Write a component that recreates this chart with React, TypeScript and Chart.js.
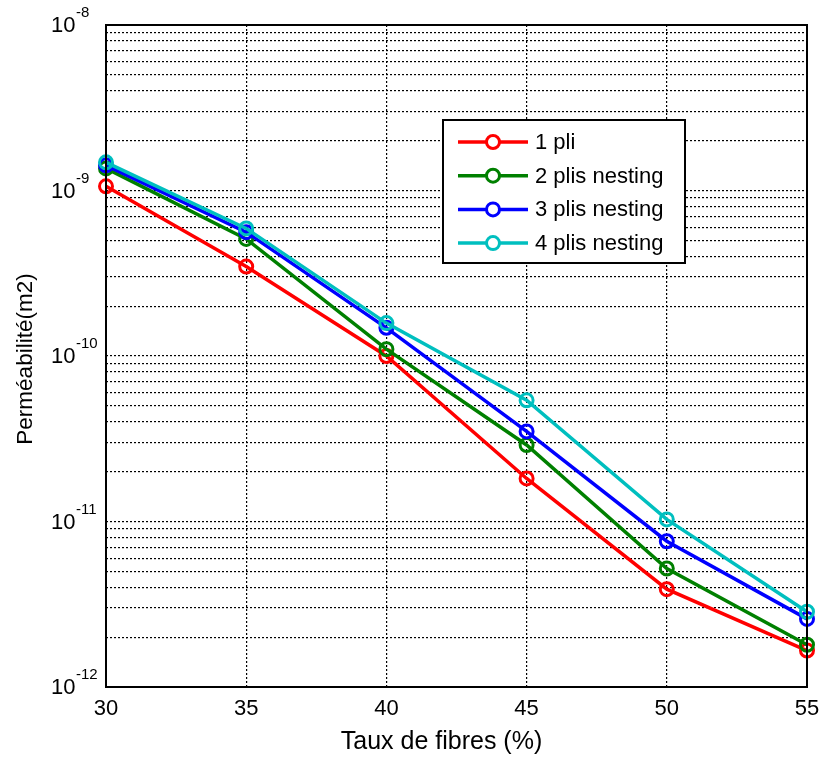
import React, { useEffect, useRef } from "react";
import { Chart, registerables } from "chart.js";

Chart.register(...registerables);

const xValues = [30, 35, 40, 45, 50, 55];
const xTicks = [30, 35, 40, 45, 50, 55];
const yExponents = [-8, -9, -10, -11, -12];

const seriesNames = ["1 pli", "2 plis nesting", "3 plis nesting", "4 plis nesting"];
const seriesColors = ["#ff0000", "#008000", "#0000ff", "#00bfbf"];

const pli1 = [1.06e-9, 3.47e-10, 1.0e-10, 1.82e-11, 3.9e-12, 1.66e-12];
const plis2 = [1.36e-9, 5.1e-10, 1.1e-10, 2.9e-11, 5.2e-12, 1.8e-12];
const plis3 = [1.42e-9, 5.6e-10, 1.48e-10, 3.5e-11, 7.6e-12, 2.58e-12];
const plis4 = [1.48e-9, 5.9e-10, 1.58e-10, 5.4e-11, 1.03e-11, 2.85e-12];

const seriesValues = [pli1, plis2, plis3, plis4];

const FONT = '"Liberation Sans", Arial, Helvetica, sans-serif';

const overlayPlugin = {
  id: "overlay",
  afterDraw(chart: any) {
    const ctx = chart.ctx;
    const area = chart.chartArea;
    const ys = chart.scales.y;
    ctx.save();
    // box
    ctx.strokeStyle = "#000";
    ctx.lineWidth = 2;
    ctx.setLineDash([]);
    ctx.strokeRect(area.left, area.top, area.right - area.left, area.bottom - area.top);

    // y tick labels with superscript
    ctx.fillStyle = "#000";
    yExponents.forEach((e) => {
      const y = ys.getPixelForValue(Math.pow(10, e));
      ctx.font = `22px ${FONT}`;
      ctx.textAlign = "left";
      ctx.textBaseline = "middle";
      ctx.fillText("10", 51, y + 1);
      ctx.font = `15px ${FONT}`;
      ctx.fillText(String(e), 76, y - 12);
    });

    // axis titles
    ctx.font = `25px ${FONT}`;
    ctx.textAlign = "center";
    ctx.textBaseline = "middle";
    ctx.fillText("Taux de fibres (%)", (area.left + area.right) / 2 - 15, 742);

    ctx.save();
    ctx.translate(26, 359);
    ctx.rotate(-Math.PI / 2);
    ctx.font = `22.5px ${FONT}`;
    ctx.fillText("Perméabilité(m2)", 0, 0);
    ctx.restore();

    // legend
    const lx = 443, ly = 120, lw = 242, lh = 143;
    ctx.fillStyle = "#fff";
    ctx.fillRect(lx, ly, lw, lh);
    ctx.strokeStyle = "#000";
    ctx.lineWidth = 2;
    ctx.strokeRect(lx, ly, lw, lh);
    seriesNames.forEach((name, i) => {
      const y = 142 + i * 33.7;
      ctx.strokeStyle = seriesColors[i];
      ctx.lineWidth = 3.5;
      ctx.beginPath();
      ctx.moveTo(458, y);
      ctx.lineTo(528, y);
      ctx.stroke();
      ctx.fillStyle = "#fff";
      ctx.lineWidth = 3;
      ctx.beginPath();
      ctx.arc(493, y, 6.5, 0, Math.PI * 2);
      ctx.fill();
      ctx.stroke();
      ctx.fillStyle = "#000";
      ctx.font = `22px ${FONT}`;
      ctx.textAlign = "left";
      ctx.textBaseline = "middle";
      ctx.fillText(name, 535, y + 1);
    });
    ctx.restore();
  },
};

export default function App() {
  const ref = useRef<HTMLCanvasElement | null>(null);
  useEffect(() => {
    if (!ref.current) return;
    const datasets = seriesValues.map((vals, i) => ({
      label: seriesNames[i],
      data: vals.map((v, j) => ({ x: xValues[j], y: v })),
      borderColor: seriesColors[i],
      backgroundColor: "rgba(255,255,255,0)",
      borderWidth: 3.5,
      pointRadius: 6.5,
      pointBorderWidth: 3,
      pointBackgroundColor: "rgba(255,255,255,0)",
      pointBorderColor: seriesColors[i],
      fill: false,
      tension: 0,
      clip: false,
      order: 3 - i,
    }));
    const chart = new Chart(ref.current, {
      type: "line",
      data: { datasets },
      plugins: [overlayPlugin],
      options: {
        animation: false,
        responsive: false,
        maintainAspectRatio: false,
        events: [],
        layout: { padding: { top: 25, right: 14, left: 0, bottom: 0 } },
        plugins: { legend: { display: false }, tooltip: { enabled: false } },
        scales: {
          x: {
            type: "linear",
            min: 30,
            max: 55,
            afterBuildTicks: (s: any) => {
              s.ticks = xTicks.map((v) => ({ value: v }));
            },
            afterFit: (s: any) => {
              s.height = 75;
              s.paddingLeft = 0;
              s.paddingRight = 0;
            },
            grid: { color: "#000", lineWidth: 1.2, drawTicks: false },
            border: { display: false, dash: [2, 2] },
            ticks: {
              color: "#000",
              font: { family: FONT, size: 22 },
              padding: 9,
              maxRotation: 0,
              autoSkip: false,
            },
          },
          y: {
            type: "logarithmic",
            min: 1e-12,
            max: 1e-8,
            afterBuildTicks: (s: any) => {
              const t: any[] = [];
              for (let e = -12; e <= -9; e++) {
                for (let m = 1; m <= 9; m++) t.push({ value: m * Math.pow(10, e) });
              }
              t.push({ value: 1e-8 });
              s.ticks = t;
            },
            afterFit: (s: any) => {
              s.width = 106;
              s.paddingTop = 0;
              s.paddingBottom = 0;
            },
            grid: { color: "#000", lineWidth: 1.2, drawTicks: false },
            border: { display: false, dash: [2, 2] },
            ticks: { display: false },
          },
        },
      },
    } as any);
    return () => chart.destroy();
  }, []);
  return (
    <div style={{ position: "absolute", left: 0, top: 0, width: 821, height: 762, background: "#fff" }}>
      <canvas ref={ref} width={821} height={762} style={{ width: 821, height: 762, display: "block" }} />
    </div>
  );
}
